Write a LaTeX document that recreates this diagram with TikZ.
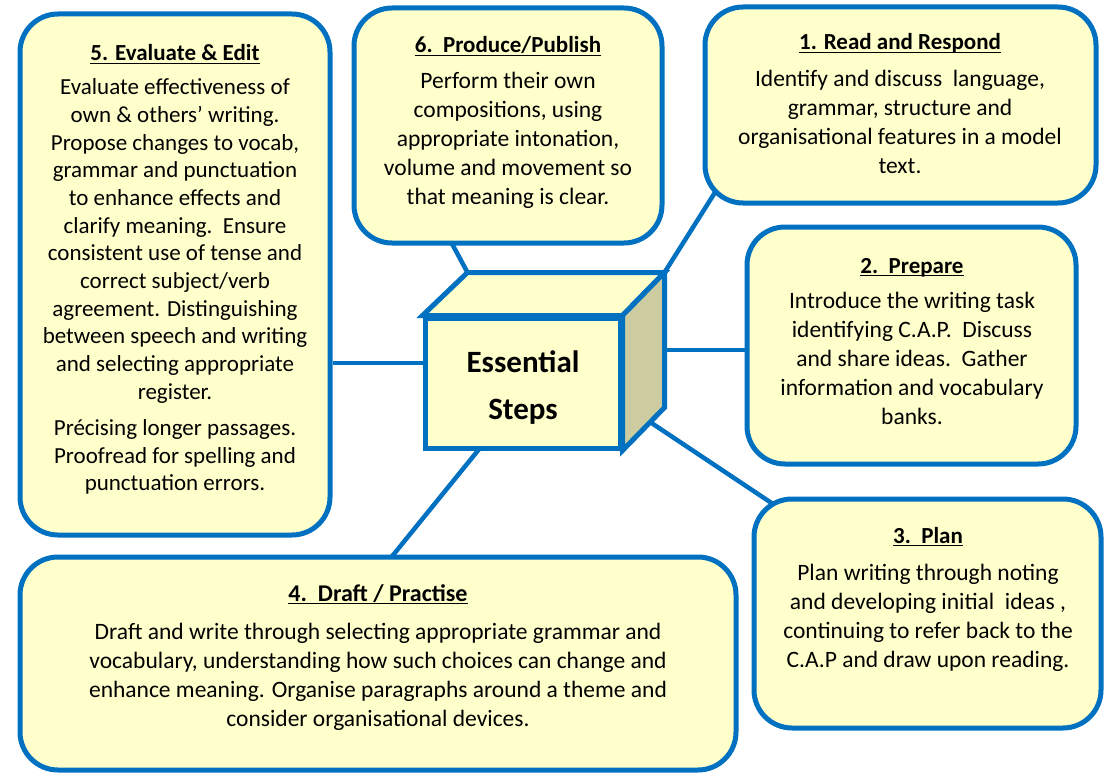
\documentclass[tikz,border=0pt]{standalone}
\usepackage{fontspec}
\setmainfont{Carlito}
\newlength{\ulw}
\newcommand{\myul}[1]{\settowidth{\ulw}{#1}\makebox[\ulw][l]{#1}\hspace*{-\ulw}\rule[-3.4pt]{\ulw}{1.5pt}}
\usetikzlibrary{calc}
\definecolor{bordc}{RGB}{0,112,192}
\definecolor{fillc}{RGB}{255,255,204}
\definecolor{sidec}{RGB}{204,204,160}
\pgfdeclarelayer{background}
\pgfsetlayers{background,main}
\begin{document}
\begin{tikzpicture}[x=1pt,y=-1pt,
  stepbox/.style={draw=bordc, fill=fillc, line width=5pt, rounded corners=38pt, inner sep=0pt},
  cubeface/.style={draw=bordc, fill=fillc, line width=5pt, line join=miter},
  link/.style={draw=bordc, line width=4.5pt},
  ttl/.style={anchor=base, inner sep=0pt, font=\fontsize{23}{27}\selectfont\bfseries},
  body/.style={align=center, inner sep=0pt, font=\fontsize{23.5}{29}\selectfont},
  bodyb/.style={align=center, inner sep=0pt, font=\fontsize{23}{27.7}\selectfont}]
\useasboundingbox (0,0) rectangle (1106,776);

% boxes
\node[stepbox, minimum width=310pt, minimum height=521pt] (b5) at (175,274.5) {};
\node[stepbox, minimum width=308pt, minimum height=235pt] (b6) at (508,125.5) {};
\node[stepbox, minimum width=391pt, minimum height=196pt] (b1) at (900.5,105) {};
\node[stepbox, minimum width=329pt, minimum height=237pt] (b2) at (911.5,345.5) {};
\node[stepbox, minimum width=347pt, minimum height=229pt] (b3) at (927.5,613.5) {};
\node[stepbox, minimum width=716pt, minimum height=213pt] (b4) at (378,663.5) {};

% cube
\node[draw=bordc, fill=fillc, line width=5pt, minimum width=195pt, minimum height=130pt, inner sep=0pt] (cube) at (522.5,383) {};
\coordinate (ctl) at ($(cube.north west)+(45,-43)$);
\coordinate (ctr) at ($(cube.north east)+(42,-43)$);
\coordinate (cbr) at ($(cube.south east)+(42,-43)$);
\draw[cubeface] (cube.north west) -- (ctl) -- (ctr) -- (cube.north east) -- cycle;
\draw[cubeface, fill=sidec] (cube.north east) -- (ctr) -- (cbr) -- (cube.south east) -- cycle;
\node[align=center, inner sep=0pt, font=\fontsize{31}{47}\selectfont\bfseries] (esst) at (523,386.5) {\strut Essential\\Steps\strut};

% connector end points
\coordinate (p6) at (443,227);
\coordinate (p1) at (726,175);
\coordinate (c5) at (425,363);
\coordinate (c2) at (662,350);
\coordinate (c3) at (650,422);
\coordinate (p3) at (785,512);
\coordinate (c4) at (480,448);
\coordinate (p4) at (385,565);

\begin{pgfonlayer}{background}
\draw[link] (p6) -- (ctl);
\draw[link] (p1) -- (ctr);
\draw[link] (b5.east |- c5) -- (c5);
\draw[link] (c2) -- (b2.west |- c2);
\draw[link] (c3) -- (p3);
\draw[link] (c4) -- (p4);
\end{pgfonlayer}

% texts
\node[ttl] (t5) at (175,61) {\myul{5. Evaluate \& Edit}};
\node[bodyb] (x5a) at (175,241.5) {\strut Evaluate effectiveness of\\own \& others’ writing.\\Propose changes to vocab,\\grammar and punctuation\\to enhance effects and\\clarify meaning.\ \ Ensure\\consistent use of tense and\\correct subject/verb\\agreement. Distinguishing\\between speech and writing\\and selecting appropriate\\register.\strut};
\node[bodyb] (x5b) at (175,457.5) {\strut Précising longer passages.\\Proofread for spelling and\\punctuation errors.\strut};

\node[ttl] (t6) at (508,53) {\myul{6.\ \ Produce/Publish}};
\node[body] (x6) at (508,141) {\strut Perform their own\\compositions, using\\appropriate intonation,\\volume and movement so\\that meaning is clear.\strut};

\node[ttl] (t1) at (900,50) {\myul{1. Read and Respond}};
\node[body] (x1) at (900,124.5) {\strut Identify and discuss\ \ language,\\grammar, structure and\\organisational features in a model\\text.\strut};

\node[ttl] (t2) at (912,273) {\myul{2.\ \ Prepare}};
\node[body] (x2) at (912,361) {\strut Introduce the writing task\\identifying C.A.P.\ \ Discuss\\and share ideas.\ \ Gather\\information and vocabulary\\banks.\strut};

\node[ttl] (t3) at (928,543) {\myul{3.\ \ Plan}};
\node[body] (x3) at (928,618) {\strut Plan writing through noting\\and developing initial\ \ ideas ,\\continuing to refer back to the\\C.A.P and draw upon reading.\strut};

\node[ttl, font=\fontsize{24}{28}\selectfont\bfseries] (t4) at (378,601) {\myul{4.\ \ Draft / Practise}};
\node[body] (x4) at (378,677) {\strut Draft and write through selecting appropriate grammar and\\vocabulary, understanding how such choices can change and\\enhance meaning. Organise paragraphs around a theme and\\consider organisational devices.\strut};
\end{tikzpicture}
\end{document}
